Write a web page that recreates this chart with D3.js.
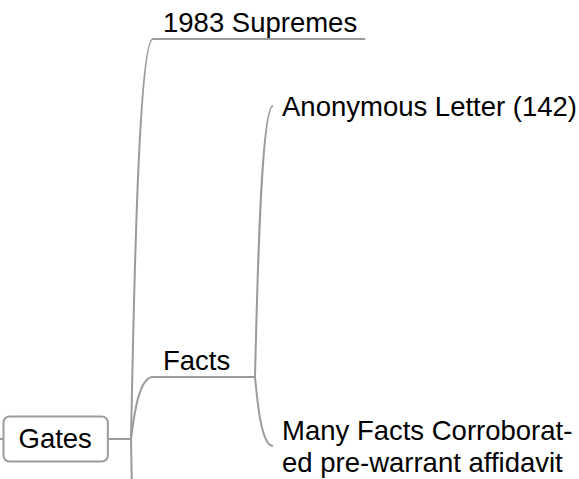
<!DOCTYPE html>
<html>
<head>
<meta charset="utf-8">
<script src="https://cdn.jsdelivr.net/npm/d3@7"></script>
<style>
  body { margin: 0; background: #fff; }
  text { font-family: "Liberation Sans", Arial, Helvetica, sans-serif; font-size: 27.5px; fill: #000; }
</style>
</head>
<body>
<div id="chart"></div>
<script>
// Mind map topics ("|" marks a line break)
var topics   = ["Gates", "1983 Supremes", "Facts", "Anonymous Letter (142)", "Many Facts Corroborat-|ed pre-warrant affidavit"];
var parentOf = ["", "Gates", "Gates", "Facts", "Facts"];

// Layout
var width = 579, height = 479;
var lineColor = "#9b9b9b";
var shapeOf = {"Gates": "box", "1983 Supremes": "underline", "Facts": "underline"};
// left edge of each level of the map
var colX = d3.scaleOrdinal().domain([0, 1, 2]).range([3, 153, 273]);
// vertical anchor of each topic, where its connector arrives
var rowY = {"Gates": 439, "1983 Supremes": 39, "Facts": 377, "Anonymous Letter (142)": 106,
            "Many Facts Corroborat-|ed pre-warrant affidavit": 446};
var forkGap = 18;       // distance between a parent's fork and its children
var lineHeight = 31.5;

var root = d3.stratify()
    .id(function(d) { return d.name; })
    .parentId(function(d) { return d.parent || null; })
  (topics.map(function(t, i) { return {name: t, parent: parentOf[i]}; }));

var svg = d3.select("#chart").append("svg")
    .attr("width", width)
    .attr("height", height);

var linkLayer = svg.append("g");
var nodeLayer = svg.append("g");

// curved connector: leaves the fork almost vertically, bends into the child
function branch(x1, y1, x2, y2) {
  var dx = x2 - x1, dy = y2 - y1, p = d3.path();
  p.moveTo(x1, y1);
  p.bezierCurveTo(x1 + 0.1 * dx, y1 + 0.25 * dy, x1 + 0.3 * dx, y2, x2, y2);
  return p.toString();
}

root.each(function(n) {
  n.x = colX(n.depth);
  n.y = rowY[n.id];
  n.lines = n.id.split("|");
});

// draw the labels first so they can be measured
root.each(function(n) {
  var g = nodeLayer.append("g");
  var shape = shapeOf[n.id] || "plain";
  var t = g.append("text");
  var base;
  if (shape === "box") base = n.y + 8.5;
  else if (shape === "underline") base = n.y - 7.5;
  else base = n.y + 10 - (n.lines.length - 1) * lineHeight / 2;
  n.lines.forEach(function(l, i) {
    t.append("tspan").attr("x", 0).attr("y", base + i * lineHeight).text(l);
  });
  var tw = d3.max(t.selectAll("tspan").nodes(), function(s) { return s.getComputedTextLength(); });
  n.textWidth = tw;
  if (shape === "box") {
    var pad = 15.5;
    n.right = n.x + tw + 2 * pad;
    t.attr("text-anchor", "middle").selectAll("tspan").attr("x", (n.x + n.right) / 2);
    g.insert("rect", "text")
        .attr("x", n.x + 0.5).attr("y", n.y - 22.5)
        .attr("width", n.right - n.x).attr("height", 45)
        .attr("rx", 6)
        .attr("fill", "#fff").attr("stroke", lineColor).attr("stroke-width", 2);
  } else if (shape === "underline") {
    t.selectAll("tspan").attr("x", n.x + 10);
    n.right = n.children ? colX(n.depth + 1) - forkGap : n.x + 10 + tw + 8;
    linkLayer.append("line")
        .attr("x1", n.x).attr("x2", n.right)
        .attr("y1", n.y).attr("y2", n.y)
        .attr("stroke", lineColor).attr("stroke-width", 2);
  } else {
    t.selectAll("tspan").attr("x", n.x + 9);
    n.right = n.x + 9 + tw;
  }
});

// connectors from each parent's fork to its children
root.each(function(n) {
  if (!n.children) return;
  var fx = colX(n.depth + 1) - (n.depth === 0 ? 22 : forkGap);
  if (shapeOf[n.id] === "box") {
    linkLayer.append("line")
        .attr("x1", n.right).attr("x2", fx)
        .attr("y1", n.y).attr("y2", n.y)
        .attr("stroke", lineColor).attr("stroke-width", 2);
  }
  n.fork = [fx, n.y];
  n.children.forEach(function(c) {
    linkLayer.append("path")
        .attr("d", branch(fx, n.y, c.x, c.y))
        .attr("fill", "none")
        .attr("stroke", lineColor).attr("stroke-width", 2);
  });
});

// the map continues beyond the frame: Gates hangs off a parent to the left,
// and has more subtopics below the bottom edge
linkLayer.append("line")
    .attr("x1", 0).attr("x2", root.x)
    .attr("y1", root.y).attr("y2", root.y)
    .attr("stroke", lineColor).attr("stroke-width", 2);
linkLayer.append("path")
    .attr("d", branch(root.fork[0], root.y, colX(1), height + 420))
    .attr("fill", "none")
    .attr("stroke", lineColor).attr("stroke-width", 2);
</script>
</body>
</html>
